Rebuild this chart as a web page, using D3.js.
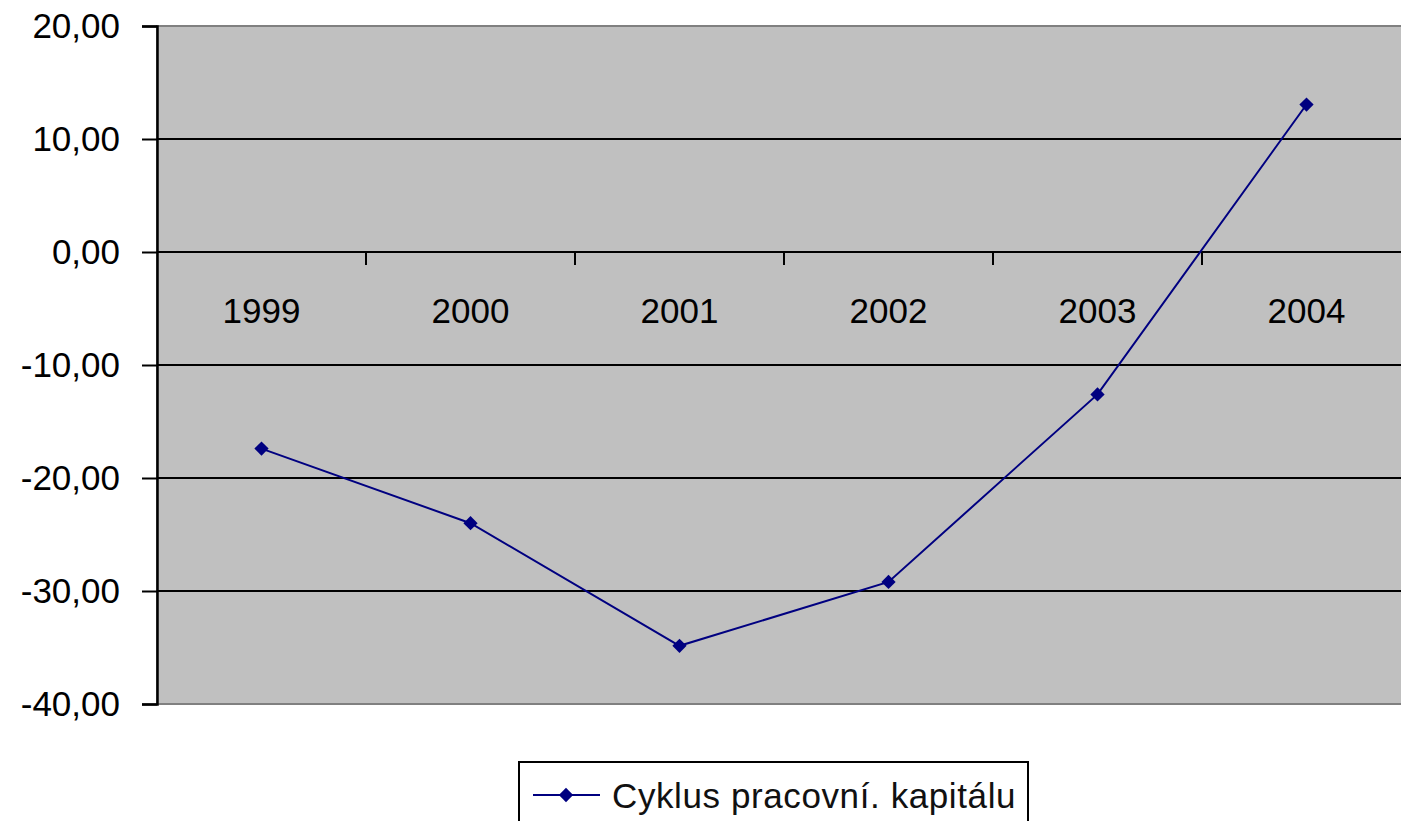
<!DOCTYPE html>
<meta charset="utf-8">
<style>
body { margin: 0; background: #fff; }
svg { display: block; font-family: "Liberation Sans", Arial, sans-serif; }
.grid line { stroke: #000; stroke-width: 2; }
.axis text { font-size: 35px; fill: #000; }
</style>
<body>
<svg width="1401" height="821"></svg>
<script src="https://cdn.jsdelivr.net/npm/d3@7"></script>
<script>

var years = ["1999", "2000", "2001", "2002", "2003", "2004"];
var values = [-17.4, -24.0, -34.85, -29.2, -12.6, 13.05];
var yTicks = [20, 10, 0, -10, -20, -30, -40];
var seriesName = "Cyklus pracovní. kapitálu";

var svg = d3.select("svg");

var plotLeft = 157, plotTop = 26, plotW = 1254, plotH = 678;

var x = d3.scaleBand()
    .domain(years)
    .range([plotLeft, plotLeft + plotW]);

var y = d3.scaleLinear()
    .domain([-40, 20])
    .range([plotTop + plotH, plotTop]);

var fmt = function(d) { return d3.format(".2f")(d).replace(".", ",").replace("−", "-"); };

// plot area
svg.append("rect")
    .attr("x", plotLeft)
    .attr("y", plotTop)
    .attr("width", plotW)
    .attr("height", plotH)
    .attr("fill", "#c0c0c0")
    .attr("stroke", "#808080")
    .attr("stroke-width", 2);

// gridlines
svg.append("g")
    .attr("class", "grid")
  .selectAll("line")
  .data(yTicks.filter(function(d) { return d > -40 && d < 20; }))
  .enter().append("line")
    .attr("x1", plotLeft)
    .attr("x2", plotLeft + plotW)
    .attr("y1", function(d) { return y(d); })
    .attr("y2", function(d) { return y(d); });

// y axis
var yAxis = svg.append("g")
    .attr("class", "axis")
    .attr("transform", "translate(" + plotLeft + ",0)")
    .call(d3.axisLeft(y).tickValues(yTicks).tickFormat(fmt).tickSize(15).tickPadding(22));
yAxis.select(".domain").attr("stroke", "#000").attr("stroke-width", 2.5);
yAxis.selectAll(".tick line").attr("stroke", "#000").attr("stroke-width", 2);
yAxis.selectAll("text").attr("fill", "#111");

// x axis on zero line, ticks between categories
var xAxis = svg.append("g")
    .attr("class", "axis")
    .attr("transform", "translate(0," + y(0) + ")");
xAxis.selectAll("line")
  .data(years.slice(1))
  .enter().append("line")
    .attr("x1", function(d) { return x(d); })
    .attr("x2", function(d) { return x(d); })
    .attr("y1", 0)
    .attr("y2", 13)
    .attr("stroke", "#000")
    .attr("stroke-width", 2);
xAxis.selectAll("text")
  .data(years)
  .enter().append("text")
    .attr("x", function(d) { return x(d) + x.bandwidth() / 2; })
    .attr("y", 71)
    .attr("text-anchor", "middle")
    .attr("fill", "#111")
    .text(function(d) { return d; });

// series
var line = d3.line()
    .x(function(d, i) { return x(years[i]) + x.bandwidth() / 2; })
    .y(function(d) { return y(d); });

svg.append("path")
    .datum(values)
    .attr("fill", "none")
    .attr("stroke", "#000080")
    .attr("stroke-width", 2)
    .attr("d", line);

var diamond = d3.symbol().type(d3.symbolDiamond2).size(130);

svg.append("g")
  .selectAll("path")
  .data(values)
  .enter().append("path")
    .attr("d", diamond)
    .attr("fill", "#000080")
    .attr("transform", function(d, i) {
      return "translate(" + (x(years[i]) + x.bandwidth() / 2) + "," + y(d) + ")";
    });

// legend
var legend = svg.append("g").attr("transform", "translate(519,762)");
legend.append("rect")
    .attr("width", 509)
    .attr("height", 70)
    .attr("fill", "#fff")
    .attr("stroke", "#000")
    .attr("stroke-width", 2);
legend.append("line")
    .attr("x1", 14).attr("x2", 81)
    .attr("y1", 33).attr("y2", 33)
    .attr("stroke", "#000080")
    .attr("stroke-width", 2);
legend.append("path")
    .attr("d", diamond)
    .attr("fill", "#000080")
    .attr("transform", "translate(47,33)");
legend.append("text")
    .attr("x", 93)
    .attr("y", 46)
    .attr("font-size", 35)
    .attr("letter-spacing", 0.6)
    .attr("fill", "#111")
    .text(seriesName);

</script>
</body>
